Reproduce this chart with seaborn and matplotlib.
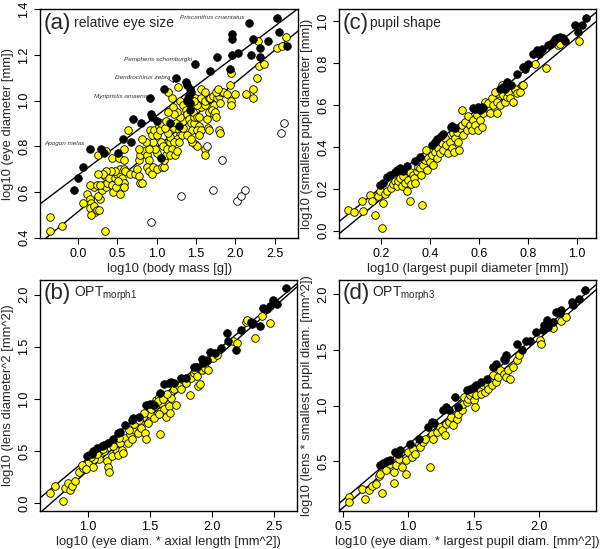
import numpy as np
import pandas as pd
import seaborn as sns
import matplotlib
matplotlib.use("Agg")
import matplotlib.pyplot as plt

#########################
# (a) relative eye size
#########################
a_yel_x = [-0.36, -0.36, -0.20, 0.35, 0.06, 0.12, 0.15, 0.16, 0.15, 0.20, 0.22, 0.17, 0.24, 0.27, 0.28,
           0.25, 0.21, 0.15, 0.30, 0.32, 0.36, 0.37, 0.34, 0.40, 0.43, 0.45, 0.49, 0.47, 0.50, 0.54,
           0.56, 0.59, 0.58, 0.54, 0.53, 0.59, 0.60, 0.51, 0.47, 0.42, 0.36, 0.32, 0.26, 0.24, 0.28,
           0.26, 0.36, 0.43, 0.52, 0.59, 0.64, 0.58, 0.66, 0.73, 0.75, 0.77, 0.79, 0.81, 0.77, 0.79,
           0.84, 0.88, 0.90, 0.88, 0.90, 0.94, 0.96, 1.00, 1.00, 0.98, 0.96, 0.90, 0.86, 0.81, 0.78,
           0.91, 0.94, 0.97, 1.00, 1.03, 1.04, 1.06, 1.05, 1.08, 1.07, 1.10, 1.09, 1.12, 1.13, 1.17,
           1.17, 1.15, 1.11, 1.12, 1.22, 1.25, 1.28, 1.30, 1.26, 1.22, 1.20, 1.17, 1.24, 1.26, 1.28,
           1.32, 1.34, 1.34, 1.30, 1.26, 1.21, 1.22, 1.15, 1.20, 1.15, 1.27, 1.30, 1.34, 1.37, 1.39,
           1.41, 1.44, 1.45, 1.47, 1.48, 1.46, 1.51, 1.54, 1.56, 1.51, 1.49, 1.54, 1.51, 1.56, 1.54,
           1.49, 1.51, 1.45, 1.39, 1.44, 1.40, 1.48, 1.56, 1.61, 1.64, 1.66, 1.65, 1.66, 1.62, 1.62,
           1.62, 1.66, 1.68, 1.72, 1.73, 1.71, 1.73, 1.77, 1.79, 1.82, 1.80, 1.85, 1.90, 1.94, 1.95,
           2.00, 2.14, 2.23, 2.23, 1.79, 1.80, 1.74, 1.75, 2.28, 2.30, 2.36, 2.29, 2.53, 2.59, 2.65,
           1.94, 1.93, 1.56, 1.62, 1.75, 1.78]
a_yel_y = [0.49, 0.43, 0.45, 0.43, 0.55, 0.59, 0.57, 0.55, 0.53, 0.54, 0.51, 0.50, 0.52, 0.52, 0.57,
           0.58, 0.62, 0.63, 0.61, 0.63, 0.62, 0.64, 0.67, 0.66, 0.63, 0.60, 0.62, 0.66, 0.68, 0.68,
           0.66, 0.64, 0.62, 0.59, 0.70, 0.70, 0.69, 0.65, 0.69, 0.69, 0.69, 0.68, 0.68, 0.63, 0.63,
           0.76, 0.78, 0.75, 0.75, 0.79, 0.87, 0.74, 0.68, 0.68, 0.70, 0.67, 0.64, 0.64, 0.74, 0.76,
           0.78, 0.76, 0.74, 0.71, 0.69, 0.68, 0.71, 0.70, 0.77, 0.79, 0.82, 0.79, 0.82, 0.83, 0.79,
           0.87, 0.85, 0.87, 0.85, 0.89, 0.87, 0.90, 0.82, 0.80, 0.71, 0.71, 0.74, 0.76, 0.79, 0.82,
           0.84, 0.86, 0.88, 0.91, 0.88, 0.90, 0.87, 0.85, 0.83, 0.82, 0.79, 0.76, 0.76, 0.78, 0.82,
           0.85, 0.88, 0.91, 0.93, 0.95, 0.97, 0.94, 0.95, 1.01, 1.04, 1.06, 1.00, 0.98, 0.96, 0.94,
           0.92, 0.90, 0.87, 0.90, 0.93, 0.95, 0.93, 0.93, 0.97, 0.98, 1.01, 0.89, 0.87, 0.87, 0.85,
           0.81, 0.80, 0.82, 0.85, 0.83, 1.01, 1.00, 1.01, 0.98, 0.92, 0.95, 0.88, 0.87, 0.79, 0.76,
           1.00, 1.01, 1.01, 1.02, 0.98, 0.96, 0.94, 1.01, 1.02, 1.04, 0.99, 1.04, 1.03, 1.00, 0.98,
           1.03, 1.03, 1.05, 1.01, 0.87, 0.86, 0.95, 0.93, 1.10, 1.15, 1.16, 1.26, 1.23, 1.24, 1.28,
           1.12, 1.07, 1.05, 1.04, 1.04, 1.05]
a_blk_x = [-0.05, 0.00, 0.06, 0.15, 0.29, 0.33, 0.51, 0.57, 0.68, 0.70, 0.80, 0.92, 0.93, 0.94, 1.01,
           1.10, 1.05, 1.25, 1.37, 1.39, 1.42, 1.44, 1.41, 1.38, 1.42, 1.42, 1.28, 1.17, 1.49, 1.68,
           1.77, 1.96, 1.96, 1.96, 2.03, 2.23, 2.17, 2.20, 2.31, 2.31, 2.42, 2.53, 2.55, 2.66, 1.93]
a_blk_y = [0.61, 0.66, 0.71, 0.79, 0.79, 0.77, 0.77, 0.83, 0.82, 0.92, 0.90, 1.01, 0.94, 0.93, 0.91,
           1.05, 0.75, 1.10, 1.08, 1.07, 1.05, 1.04, 1.02, 1.00, 0.99, 0.96, 0.89, 0.90, 1.16, 1.13,
           1.19, 1.29, 1.27, 1.20, 1.21, 1.27, 1.34, 1.20, 1.23, 1.19, 1.26, 1.36, 1.30, 1.24, 1.14]
a_open_x = [1.64, 1.83, 1.31, 1.72, 0.93, 2.02, 2.07, 2.13, 2.58, 2.62]
a_open_y = [0.80, 0.74, 0.58, 0.61, 0.47, 0.56, 0.58, 0.61, 0.86, 0.90]
a_lines = [(0.673, 0.261), (0.513, 0.283)]  # (intercept, slope)
a_names = ["Priscanthus cruentatus", "Pempheris schomburgki", "Dendrochirus zebra",
           "Myripristis amaena", "Apogon melas"]
a_name_x = [2.12, 1.45, 1.18, 0.88, 0.08]
a_name_y = [1.365, 1.18, 1.10, 1.02, 0.81]

#########################
# (c) pupil shape
#########################
c_yel_x = [0.066, 0.090, 0.121, 0.125, 0.155, 0.162, 0.175, 0.189, 0.196, 0.205, 0.210, 0.216, 0.226,
           0.240, 0.250, 0.257, 0.264, 0.271, 0.278, 0.285, 0.291, 0.298, 0.305, 0.312, 0.319, 0.319,
           0.325, 0.332, 0.335, 0.339, 0.346, 0.353, 0.359, 0.366, 0.370, 0.373, 0.380, 0.384, 0.387,
           0.394, 0.400, 0.407, 0.414, 0.421, 0.428, 0.434, 0.441, 0.448, 0.455, 0.462, 0.468, 0.475,
           0.482, 0.489, 0.496, 0.500, 0.503, 0.509, 0.516, 0.520, 0.523, 0.530, 0.531, 0.537, 0.543,
           0.550, 0.557, 0.564, 0.571, 0.578, 0.584, 0.591, 0.598, 0.605, 0.612, 0.618, 0.625, 0.632,
           0.639, 0.646, 0.652, 0.659, 0.673, 0.676, 0.680, 0.687, 0.700, 0.707, 0.714, 0.721, 0.727,
           0.741, 0.748, 0.755, 0.768, 0.775, 0.782, 0.830, 0.875, 0.925, 0.932, 1.011, 0.693, 0.666]
c_yel_y = [0.097, 0.089, 0.140, 0.095, 0.171, 0.143, 0.076, 0.164, 0.187, 0.010, 0.132, 0.175, 0.187,
           0.203, 0.222, 0.235, 0.211, 0.235, 0.251, 0.211, 0.259, 0.227, 0.187, 0.243, 0.140, 0.279,
           0.222, 0.267, 0.251, 0.227, 0.283, 0.306, 0.298, 0.267, 0.124, 0.314, 0.338, 0.386, 0.290,
           0.346, 0.330, 0.362, 0.314, 0.378, 0.346, 0.394, 0.370, 0.417, 0.386, 0.441, 0.410, 0.370,
           0.425, 0.394, 0.465, 0.378, 0.441, 0.473, 0.425, 0.386, 0.489, 0.505, 0.576, 0.457, 0.521,
           0.481, 0.546, 0.505, 0.481, 0.529, 0.505, 0.552, 0.481, 0.529, 0.497, 0.560, 0.616, 0.584,
           0.608, 0.560, 0.632, 0.600, 0.616, 0.560, 0.656, 0.600, 0.648, 0.616, 0.640, 0.663, 0.632,
           0.616, 0.679, 0.660, 0.663, 0.695, 0.695, 0.798, 0.778, 0.886, 0.894, 0.905, 0.695, 0.663]
c_blk_x = [0.196, 0.210, 0.226, 0.237, 0.257, 0.267, 0.278, 0.291, 0.308, 0.339, 0.359, 0.407, 0.421,
           0.428, 0.445, 0.455, 0.485, 0.492, 0.503, 0.578, 0.585, 0.598, 0.605, 0.612, 0.618, 0.687,
           0.700, 0.714, 0.721, 0.730, 0.707, 0.755, 0.782, 0.789, 0.803, 0.823, 0.836, 0.847, 0.857,
           0.884, 0.894, 0.911, 0.932, 0.945, 0.952, 0.905, 0.919, 0.993, 1.020, 1.038, 1.006]
c_blk_y = [0.219, 0.227, 0.256, 0.267, 0.279, 0.290, 0.298, 0.283, 0.310, 0.333, 0.354, 0.410, 0.425,
           0.437, 0.452, 0.460, 0.497, 0.502, 0.492, 0.584, 0.581, 0.592, 0.576, 0.590, 0.587, 0.679,
           0.687, 0.711, 0.698, 0.695, 0.676, 0.751, 0.783, 0.775, 0.798, 0.846, 0.862, 0.846, 0.870,
           0.889, 0.894, 0.917, 0.925, 0.921, 0.905, 0.902, 0.921, 0.984, 0.984, 1.016, 0.949]
c_lines = [(0.015, 0.953), (-0.044, 0.967)]

#########################
# (b) OPT morph1
#########################
b_yel_x = [0.69, 0.73, 0.80, 0.81, 0.84, 0.85, 0.87, 0.89, 0.93, 0.96, 1.00, 1.01, 1.04, 1.09, 1.13,
           1.15, 1.16, 1.17, 1.19, 1.22, 1.23, 1.24, 1.26, 1.27, 1.28, 1.30, 1.32, 1.34, 1.35, 1.38,
           1.39, 1.40, 1.42, 1.43, 1.44, 1.46, 1.47, 1.48, 1.50, 1.51, 1.53, 1.54, 1.55, 1.57, 1.58,
           1.59, 1.61, 1.62, 1.63, 1.65, 1.66, 1.67, 1.69, 1.71, 1.73, 1.75, 1.79, 1.82, 1.83, 1.85,
           1.86, 1.88, 1.89, 1.90, 1.92, 1.94, 1.97, 2.01, 2.04, 2.17, 2.20, 2.27, 2.28, 2.35, 2.40,
           2.47, 1.57, 1.09, 1.05, 1.12, 1.20, 1.25, 1.33, 1.37, 1.41, 1.45, 1.52, 1.56, 1.60, 1.64,
           0.95, 0.98, 1.02, 1.07]
b_yel_y = [0.10, 0.16, 0.02, 0.14, 0.19, 0.13, 0.16, 0.21, 0.30, 0.34, 0.38, 0.46, 0.35, 0.42, 0.50,
           0.40, 0.35, 0.30, 0.45, 0.53, 0.50, 0.46, 0.58, 0.51, 0.48, 0.62, 0.58, 0.66, 0.61, 0.70,
           0.75, 0.67, 0.78, 0.72, 0.83, 0.67, 0.61, 0.77, 0.85, 0.90, 0.82, 0.93, 0.99, 1.02, 0.66,
           0.96, 0.90, 1.02, 0.83, 0.93, 0.86, 1.01, 1.09, 0.94, 1.12, 1.09, 1.15, 1.04, 1.20, 1.25,
           1.28, 1.22, 1.12, 1.14, 1.28, 1.30, 1.28, 1.39, 1.42, 1.55, 1.54, 1.74, 1.76, 1.58, 1.79,
           1.73, 0.85, 0.50, 0.42, 0.52, 0.55, 0.62, 0.70, 0.76, 0.80, 0.86, 0.95, 0.98, 1.00, 1.05,
           0.37, 0.33, 0.44, 0.47]
b_blk_x = [0.99, 1.03, 1.04, 1.07, 1.11, 1.13, 1.16, 1.20, 1.24, 1.26, 1.30, 1.35, 1.36, 1.41, 1.47,
           1.50, 1.53, 1.58, 1.61, 1.65, 1.67, 1.69, 1.75, 1.79, 1.85, 1.88, 1.92, 1.93, 1.96, 1.98,
           2.02, 2.07, 2.12, 2.13, 2.19, 2.23, 2.31, 2.32, 2.33, 2.39, 2.41, 2.44, 2.47, 2.49, 2.52,
           2.60]
b_blk_y = [0.45, 0.47, 0.50, 0.53, 0.55, 0.56, 0.58, 0.61, 0.67, 0.68, 0.75, 0.80, 0.82, 0.83, 0.94,
           0.95, 0.94, 1.06, 1.14, 1.15, 1.16, 1.15, 1.20, 1.20, 1.31, 1.31, 1.38, 1.34, 1.37, 1.45,
           1.44, 1.49, 1.63, 1.55, 1.47, 1.66, 1.74, 1.72, 1.73, 1.70, 1.87, 1.86, 1.89, 1.95, 1.91,
           2.06]
b_lines = [(-0.557, 0.991), (-0.732, 1.045)]

#########################
# (d) OPT morph3
#########################
d_yel_x = [0.55, 0.55, 0.645, 0.67, 0.70, 0.72, 0.75, 0.78, 0.785, 0.80, 0.83, 0.86, 0.89, 0.89, 0.91,
           0.93, 0.95, 0.98, 0.98, 1.00, 1.03, 1.04, 1.05, 1.08, 1.09, 1.11, 1.13, 1.17, 1.18, 1.19,
           1.22, 1.24, 1.26, 1.28, 1.29, 1.31, 1.33, 1.34, 1.37, 1.38, 1.40, 1.41, 1.42, 1.43, 1.45,
           1.46, 1.47, 1.48, 1.50, 1.51, 1.52, 1.55, 1.56, 1.57, 1.59, 1.60, 1.61, 1.62, 1.64, 1.65,
           1.67, 1.69, 1.70, 1.73, 1.75, 1.76, 1.78, 1.80, 1.83, 1.85, 2.01, 2.02, 2.11, 2.17, 2.21]
d_yel_y = [0.176, 0.131, 0.251, 0.161, 0.236, 0.272, 0.296, 0.362, 0.386, 0.212, 0.416, 0.476, 0.401,
           0.302, 0.461, 0.521, 0.446, 0.380, 0.506, 0.581, 0.536, 0.611, 0.566, 0.656, 0.626, 0.671,
           0.701, 0.446, 0.746, 0.701, 0.761, 0.806, 0.776, 0.731, 0.836, 0.851, 0.896, 0.821, 0.881,
           0.926, 0.992, 0.956, 1.016, 1.076, 1.031, 1.061, 1.091, 1.121, 1.046, 0.986, 1.091, 1.151,
           1.106, 1.181, 1.121, 1.196, 1.151, 1.226, 1.181, 1.271, 1.211, 1.256, 1.316, 1.286, 1.256,
           1.316, 1.240, 1.346, 1.406, 1.451, 1.586, 1.550, 1.700, 1.760, 1.796]
d_blk_x = [0.785, 0.81, 0.84, 0.86, 0.90, 0.92, 0.94, 1.01, 1.08, 1.15, 1.18, 1.20, 1.27, 1.29, 1.31,
           1.36, 1.38, 1.45, 1.47, 1.50, 1.52, 1.56, 1.60, 1.65, 1.67, 1.73, 1.74, 1.75, 1.83, 1.87,
           1.90, 1.93, 1.98, 2.03, 2.04, 2.06, 2.07, 2.11, 2.13, 2.16, 2.17, 2.25, 2.26, 2.31, 2.35]
d_blk_y = [0.461, 0.482, 0.500, 0.506, 0.581, 0.566, 0.596, 0.656, 0.700, 0.806, 0.851, 0.842, 0.962,
           0.986, 0.956, 1.076, 0.986, 1.136, 1.151, 1.166, 1.181, 1.211, 1.241, 1.346, 1.376, 1.421,
           1.406, 1.451, 1.556, 1.496, 1.580, 1.580, 1.661, 1.676, 1.721, 1.766, 1.706, 1.751, 1.841,
           1.832, 1.856, 1.931, 1.901, 1.961, 2.042]
d_lines = [(-0.351, 1.000), (-0.426, 1.012)]

sns.set_style("ticks")
plt.rcParams["font.family"] = ["Liberation Sans", "DejaVu Sans"]

LAB = 9.4   # axis label size
TCK = 9.0   # tick label size

fig = plt.figure(figsize=(6, 5.49), dpi=100)
ax_a = fig.add_axes([0.067, 0.566, 0.430, 0.417])
ax_c = fig.add_axes([0.565, 0.566, 0.428, 0.417])
ax_b = fig.add_axes([0.067, 0.069, 0.428, 0.421])
ax_d = fig.add_axes([0.565, 0.069, 0.428, 0.421])


def draw(ax, yx, yy, bx, by, lines, ox=None, oy=None):
    sns.scatterplot(x=yx, y=yy, ax=ax, color="#ffff00", edgecolor="black", linewidth=0.6, s=30, zorder=3)
    sns.scatterplot(x=bx, y=by, ax=ax, color="black", edgecolor="black", linewidth=0.6, s=30, zorder=4)
    if ox is not None:
        sns.scatterplot(x=ox, y=oy, ax=ax, color="white", edgecolor="black", linewidth=0.6, s=30, zorder=3)
    for b0, b1 in lines:
        ax.axline((0, b0), slope=b1, color="black", lw=1.0, zorder=2)
    for s in ax.spines.values():
        s.set_visible(True)
        s.set_linewidth(1.0)
        s.set_color("black")
    ax.tick_params(labelsize=TCK, length=4, width=0.8, colors="black", pad=3)


def finish(ax, xt, yt, xlab, ylab, tag, title, tx):
    ax.set_xticks(xt)
    ax.set_xticklabels([f"{v:.1f}" for v in xt])
    ax.set_yticks(yt)
    ax.set_yticklabels([f"{v:.1f}" for v in yt], rotation=90, va="center")
    ax.set_xlabel(xlab, fontsize=LAB, labelpad=2)
    ax.set_ylabel(ylab, fontsize=LAB, labelpad=3)
    ax.text(0.015, 0.94, tag, transform=ax.transAxes, fontsize=16, va="center")
    ax.text(tx, 0.94, title, transform=ax.transAxes, fontsize=10, va="center")


draw(ax_a, a_yel_x, a_yel_y, a_blk_x, a_blk_y, a_lines, a_open_x, a_open_y)
ax_a.set_xlim(-0.48, 2.8)
ax_a.set_ylim(0.397, 1.40)
finish(ax_a, [0.0, 0.5, 1.0, 1.5, 2.0, 2.5], [0.4, 0.6, 0.8, 1.0, 1.2, 1.4],
       "log10 (body mass [g])", "log10 (eye diameter [mm])", "(a)", "relative eye size", 0.13)
for nm, nx, ny in zip(a_names, a_name_x, a_name_y):
    ax_a.text(nx, ny, nm, fontsize=4.6, style="italic", ha="right", va="center", color="#333333")
ax_a.annotate("", xy=(1.24, 1.065), xytext=(1.19, 1.095),
              arrowprops=dict(arrowstyle="->", lw=0.6, color="#333333"))

draw(ax_c, c_yel_x, c_yel_y, c_blk_x, c_blk_y, c_lines)
ax_c.set_xlim(0.029, 1.078)
ax_c.set_ylim(-0.037, 1.058)
finish(ax_c, [0.2, 0.4, 0.6, 0.8, 1.0], [0.0, 0.2, 0.4, 0.6, 0.8, 1.0],
       "log10 (largest pupil diameter [mm])", "log10 (smallest pupil diameter [mm])",
       "(c)", "pupil shape", 0.12)

draw(ax_b, b_yel_x, b_yel_y, b_blk_x, b_blk_y, b_lines)
ax_b.set_xlim(0.613, 2.685)
ax_b.set_ylim(-0.077, 2.14)
finish(ax_b, [1.0, 1.5, 2.0, 2.5], [0.0, 0.5, 1.0, 1.5, 2.0],
       "log10 (eye diam. * axial length [mm^2])", "log10 (lens diameter^2 [mm^2])",
       "(b)", r"OPT$_{\mathregular{morph1}}$", 0.13)

draw(ax_d, d_yel_x, d_yel_y, d_blk_x, d_blk_y, d_lines)
ax_d.set_xlim(0.47, 2.436)
ax_d.set_ylim(0.05, 2.13)
finish(ax_d, [0.5, 1.0, 1.5, 2.0], [0.5, 1.0, 1.5, 2.0],
       "log10 (eye diam. * largest pupil diam. [mm^2])", "log10 (lens * smallest pupil diam. [mm^2])",
       "(d)", r"OPT$_{\mathregular{morph3}}$", 0.13)

fig.savefig("out.png", dpi=100)
